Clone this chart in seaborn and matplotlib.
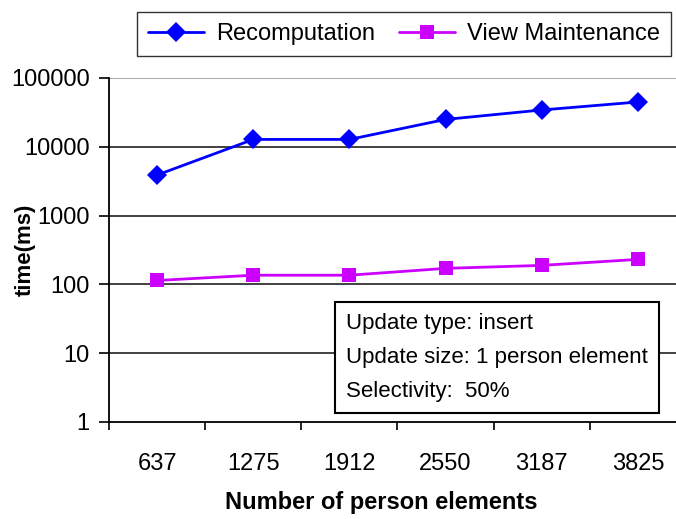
import matplotlib
matplotlib.use("Agg")
import matplotlib.pyplot as plt
import seaborn as sns
import pandas as pd
import numpy as np
from matplotlib.ticker import FixedLocator

categories = ["637", "1275", "1912", "2550", "3187", "3825"]
recomputation = [3890, 12800, 12800, 25000, 34300, 44800]
view_maintenance = [114, 136, 136, 171, 189, 231]
series_names = ["Recomputation", "View Maintenance"]
yticks = [1, 10, 100, 1000, 10000, 100000]

sns.set_theme(style="white")
plt.rcParams['font.family'] = ['Liberation Sans', 'DejaVu Sans']
plt.rcParams['text.color'] = 'black'
plt.rcParams['axes.labelcolor'] = 'black'
plt.rcParams['xtick.color'] = 'black'
plt.rcParams['ytick.color'] = 'black'

pos = np.arange(len(categories))
df = pd.DataFrame({
    "pos": np.concatenate([pos, pos]),
    "time": recomputation + view_maintenance,
    "series": [series_names[0]] * len(pos) + [series_names[1]] * len(pos),
})

fig = plt.figure(figsize=(6.76, 5.19), dpi=100)
ax = fig.add_axes([109/676, 1 - 422/519, (686-109)/676, (422-78)/519])

sns.lineplot(data=df, x="pos", y="time", hue="series", style="series",
             palette={series_names[0]: "#0000FF", series_names[1]: "#CC00FF"},
             markers={series_names[0]: "D", series_names[1]: "s"},
             dashes=False, markersize=10, linewidth=2, markeredgewidth=0,
             ax=ax, legend=False)

ax.set_yscale("log")
ax.set_ylim(1, 100000)
ax.set_xlim(-0.5, len(categories) - 0.5)
ax.yaxis.set_major_locator(FixedLocator(yticks))
ax.set_yticklabels([str(v) for v in yticks])
ax.yaxis.set_minor_locator(FixedLocator([]))
ax.set_xticks(pos)
ax.set_xticklabels(categories)
ax.xaxis.set_minor_locator(FixedLocator(np.arange(-0.5, len(categories), 1.0)))
ax.tick_params(axis="x", which="major", length=0, pad=22, labelsize=17)
ax.tick_params(axis="x", which="minor", length=6, width=1.2, color="black", direction="out", bottom=True)
ax.tick_params(axis="y", which="major", length=7, width=1.2, color="black", direction="out", left=True, labelsize=17, pad=7)

for v in yticks[1:]:
    ax.axhline(v, color="#333333" if v != 100000 else "#9aa5a5", linewidth=1.3, zorder=0)

for s in ["top", "right"]:
    ax.spines[s].set_visible(False)
for s in ["left", "bottom"]:
    ax.spines[s].set_color("black")
    ax.spines[s].set_linewidth(1.3)

ax.set_xlabel("Number of person elements", fontsize=17, fontweight="bold", va="center", ha="center")
ax.xaxis.set_label_coords((381 - 109) / 577, -(503 - 422) / 344)
ax.set_ylabel("time(ms)", fontsize=16, fontweight="bold", va="center", ha="center")
ax.yaxis.set_label_coords((25 - 109) / 577, (422 - 250) / 344)

handles = [
    plt.Line2D([], [], color="#0000FF", marker="D", markersize=10, linewidth=2, markeredgewidth=0),
    plt.Line2D([], [], color="#CC00FF", marker="s", markersize=10, linewidth=2, markeredgewidth=0),
]
leg = fig.legend(handles, series_names, loc="center", bbox_to_anchor=((140+668)/2/676, 1 - 34/519),
                 ncol=2, frameon=True, fancybox=False, fontsize=17, handlelength=2.4,
                 columnspacing=1.0, borderpad=0.45, handletextpad=0.5, borderaxespad=0)
leg.get_frame().set_edgecolor("black")
leg.get_frame().set_linewidth(1.0)

ax.text((346 - 109) / 577, (422 - 402) / 344,
        "Update type: insert\nUpdate size: 1 person element\nSelectivity:  50%",
        transform=ax.transAxes, fontsize=16, linespacing=1.8, va="bottom", ha="left",
        bbox=dict(boxstyle="square,pad=0.5", facecolor="white", edgecolor="black", linewidth=1.5))

fig.savefig("out.png", dpi=100)
